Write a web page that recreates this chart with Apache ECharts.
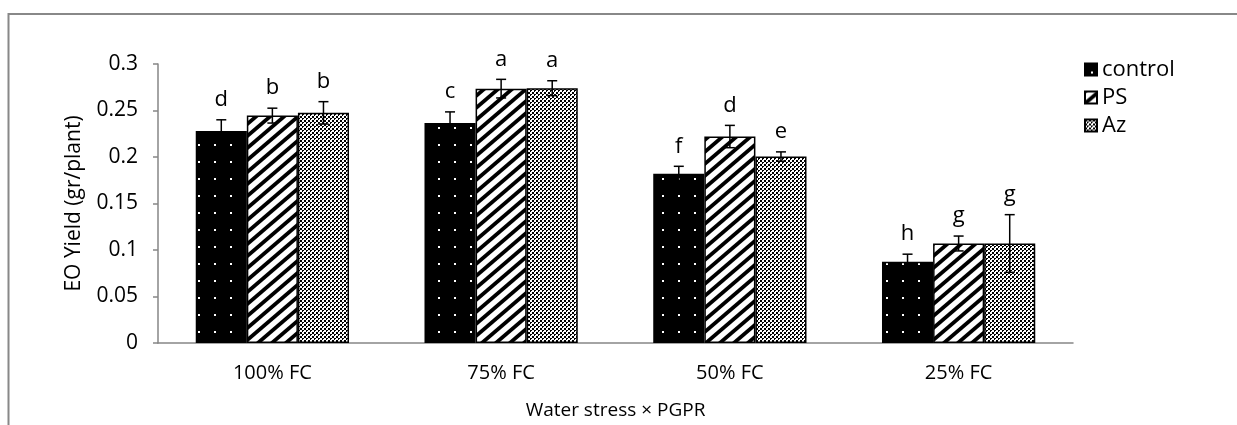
<!DOCTYPE html>
<html>
<head>
<meta charset="utf-8">
<script src="https://cdn.jsdelivr.net/npm/echarts@6/dist/echarts.min.js"></script>
<style>html,body{margin:0;padding:0;background:#fff}#c{width:1237px;height:425px}</style>
</head>
<body>
<div id="c"></div>
<script>
const categories = ['100% FC', '75% FC', '50% FC', '25% FC'];
const seriesNames = ['control', 'PS', 'Az'];
const controlValues = [0.228, 0.2365, 0.182, 0.0875];
const psValues = [0.2445, 0.2735, 0.222, 0.107];
const azValues = [0.2475, 0.274, 0.2005, 0.107];
const controlErr = [0.012, 0.012, 0.008, 0.008];
const psErr = [0.008, 0.01, 0.012, 0.008];
const azErr = [0.012, 0.008, 0.005, 0.031];
const controlLetters = ['d', 'c', 'f', 'h'];
const psLetters = ['b', 'a', 'd', 'g'];
const azLetters = ['b', 'a', 'e', 'g'];
const yTicks = [0, 0.05, 0.1, 0.15, 0.2, 0.25, 0.3];

const FONT = 'Open Sans';

function makeCanvas(w, h, draw) {
  const c = document.createElement('canvas');
  c.width = w; c.height = h;
  const ctx = c.getContext('2d');
  draw(ctx, w, h);
  return c;
}
const dotsPattern = makeCanvas(16, 17, (ctx, w, h) => {
  ctx.fillStyle = '#000'; ctx.fillRect(0, 0, w, h);
  ctx.fillStyle = '#fff'; ctx.fillRect(6, 8, 2, 2);
});
const stripePattern = makeCanvas(14, 12, (ctx, w, h) => {
  ctx.fillStyle = '#fff'; ctx.fillRect(0, 0, w, h);
  ctx.strokeStyle = '#000';
  ctx.lineWidth = 5 * w / Math.sqrt(w * w + h * h);
  for (let k = -1; k <= 1; k++) {
    ctx.beginPath();
    ctx.moveTo(-w, 2 * h + k * h);
    ctx.lineTo(2 * w, -h + k * h);
    ctx.stroke();
  }
});
const confettiPattern = makeCanvas(4, 4, (ctx, w, h) => {
  ctx.fillStyle = '#fff'; ctx.fillRect(0, 0, w, h);
  ctx.fillStyle = '#000';
  ctx.fillRect(0, 0, 2, 2);
  ctx.fillRect(2, 2, 1, 2);
  ctx.fillRect(3, 2, 1, 1);
});
const patterns = [dotsPattern, stripePattern, confettiPattern];
const valuesList = [controlValues, psValues, azValues];
const errList = [controlErr, psErr, azErr];
const letterList = [controlLetters, psLetters, azLetters];
const CAT_GAP = 0.33;

const barSeries = seriesNames.map((name, i) => ({
  name: name,
  type: 'bar',
  data: valuesList[i],
  barGap: '0%',
  barCategoryGap: (CAT_GAP * 100) + '%',
  itemStyle: {
    color: { image: patterns[i], repeat: 'repeat' },
    borderColor: '#000',
    borderWidth: 1.5
  },
  emphasis: { disabled: true }
}));

const errData = [];
seriesNames.forEach((n, s) => {
  categories.forEach((c, k) => {
    errData.push([k, s, valuesList[s][k], errList[s][k], letterList[s][k]]);
  });
});

const chart = echarts.init(document.getElementById('c'));
chart.setOption({
  animation: false,
  backgroundColor: '#fff',
  textStyle: { fontFamily: FONT },
  grid: { left: 158, right: 164, top: 64, bottom: 80 },
  legend: {
    orient: 'vertical',
    left: 1084,
    top: 58,
    padding: 0,
    itemWidth: 12,
    itemHeight: 12,
    itemGap: 5,
    icon: 'rect',
    textStyle: { fontFamily: FONT, fontSize: 22, lineHeight: 23, color: '#000' },
    data: seriesNames
  },
  xAxis: {
    type: 'category',
    data: categories,
    name: 'Water stress × PGPR',
    nameLocation: 'middle',
    nameGap: 58,
    nameTextStyle: { fontFamily: FONT, fontSize: 19, color: '#000' },
    axisLine: { lineStyle: { color: '#868686', width: 1.5 } },
    axisTick: { show: false },
    axisLabel: { fontFamily: FONT, fontSize: 20, color: '#000', margin: 20 }
  },
  yAxis: {
    type: 'value',
    min: yTicks[0],
    max: yTicks[yTicks.length - 1],
    interval: yTicks[1] - yTicks[0],
    name: 'EO Yield (gr/plant)',
    nameLocation: 'middle',
    nameGap: 73,
    nameTextStyle: { fontFamily: FONT, fontSize: 21, color: '#000' },
    axisLine: { show: true, lineStyle: { color: '#868686', width: 1.5 } },
    axisTick: { show: true, length: 5, lineStyle: { color: '#868686', width: 1.5 } },
    axisLabel: { fontFamily: FONT, fontSize: 21, color: '#000', margin: 20 },
    splitLine: { show: false }
  },
  graphic: [{
    type: 'rect',
    shape: { x: 8.5, y: 14, width: 1400, height: 600 },
    style: { fill: 'none', stroke: '#888', lineWidth: 2 },
    silent: true,
    z: -10
  }],
  series: barSeries.concat([{
    type: 'custom',
    name: 'err',
    data: errData,
    z: 10,
    silent: true,
    encode: { x: 0, y: 2 },
    renderItem: function (params, api) {
      const cat = api.value(0), s = api.value(1), v = api.value(2), e = api.value(3);
      const letter = errData[params.dataIndex][4];
      const band = api.size([1, 0])[0];
      const bw = band * (1 - CAT_GAP) / 3;
      const cx = api.coord([cat, v])[0] + (s - 1) * bw;
      const yTop = api.coord([cat, v + e])[1];
      const yBot = api.coord([cat, v - e])[1];
      const cap = 5;
      const st = { stroke: '#000', lineWidth: 1.5 };
      return {
        type: 'group',
        children: [
          { type: 'line', shape: { x1: cx, y1: yTop, x2: cx, y2: yBot }, style: st },
          { type: 'line', shape: { x1: cx - cap, y1: yTop, x2: cx + cap, y2: yTop }, style: st },
          { type: 'line', shape: { x1: cx - cap, y1: yBot, x2: cx + cap, y2: yBot }, style: st },
          { type: 'text', x: cx, y: yTop - 20, style: { text: letter, fontFamily: FONT, fontSize: 22, fill: '#000', align: 'center', verticalAlign: 'middle' } }
        ]
      };
    }
  }])
});
</script>
</body>
</html>
